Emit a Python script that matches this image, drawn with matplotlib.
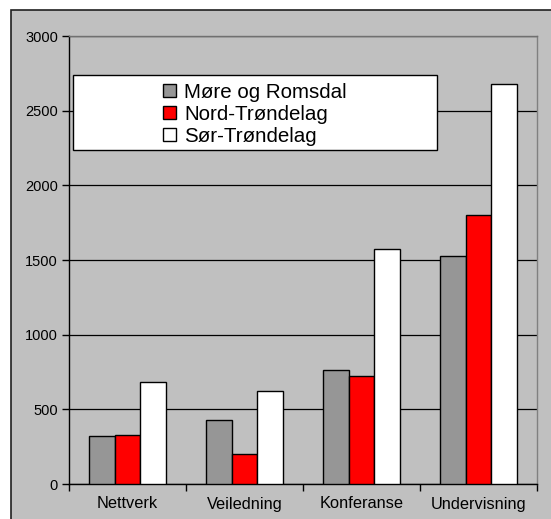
import matplotlib.pyplot as plt
import numpy as np
from matplotlib.patches import Rectangle

plt.rcParams['font.family'] = ['Liberation Sans', 'DejaVu Sans']

# Values
categories = ['Nettverk', 'Veiledning', 'Konferanse', 'Undervisning']
series_names = ['Møre og Romsdal', 'Nord-Trøndelag', 'Sør-Trøndelag']
more_romsdal = [320, 427, 765, 1527]
nord_trondelag = [328, 201, 723, 1802]
sor_trondelag = [685, 625, 1574, 2679]
colors = ['#969696', '#ff0000', '#ffffff']
yticks = [0, 500, 1000, 1500, 2000, 2500, 3000]


def do_plot():
    fig = plt.figure(figsize=(5.51, 5.19), dpi=100)
    fig.patch.set_facecolor('white')
    # gray chart area with its outer border (cut off at right/bottom)
    fig.patches.append(Rectangle((11 / 551, -0.05), 1.0, 1 - 10 / 519 + 0.05,
                                 transform=fig.transFigure, facecolor='#c0c0c0',
                                 edgecolor='#202020', lw=1.2, zorder=-10))

    ax = fig.add_axes([69 / 551, 1 - 484 / 519, 468 / 551, 448 / 519])
    ax.set_zorder(1)
    ax.set_facecolor('#c0c0c0')

    x = np.arange(len(categories))
    w = 0.222
    data = [more_romsdal, nord_trondelag, sor_trondelag]
    for i, (name, vals, c) in enumerate(zip(series_names, data, colors)):
        ax.bar(x + (i - 1) * w, vals, width=w, color=c, edgecolor='black',
               linewidth=1.0, label=name, zorder=3)

    ax.set_xlim(-0.5, len(categories) - 0.5)
    ax.set_ylim(0, 3000)
    ax.set_yticks(yticks)
    ax.set_yticklabels([str(v) for v in yticks], fontsize=10.5)
    ax.set_xticks(x)
    ax.set_xticklabels(categories, fontsize=11.8)
    ax.tick_params(axis='x', length=0, pad=9)
    ax.set_xticks(np.arange(-0.5, len(categories)), minor=True)
    ax.tick_params(axis='x', which='minor', length=5, direction='out', width=1)
    ax.tick_params(axis='y', length=5, direction='out', width=1, pad=3)
    ax.yaxis.grid(True, color='black', linewidth=0.9, zorder=0)
    ax.set_axisbelow(True)

    ax.spines['left'].set_color('black')
    ax.spines['bottom'].set_color('black')
    ax.spines['top'].set_color('#707070')
    ax.spines['right'].set_color('#808080')
    for s in ax.spines.values():
        s.set_linewidth(1.0)

    # legend box
    x0, y0, x1, y1 = 73 / 551, 1 - 150 / 519, 437 / 551, 1 - 75 / 519
    fig.patches.append(Rectangle((x0, y0), x1 - x0, y1 - y0, transform=fig.transFigure,
                                 facecolor='white', edgecolor='black', lw=1.0, zorder=5))
    leg = fig.legend(loc='center', bbox_to_anchor=((x0 + x1) / 2, (y0 + y1) / 2 - 2 / 519),
                     frameon=False, fontsize=14.8, handlelength=0.6, handleheight=0.6,
                     handletextpad=0.4, labelspacing=0.15, borderpad=0)
    leg.set_zorder(6)

    plt.savefig('out.png', dpi=100)


if __name__ == '__main__':
    do_plot()
